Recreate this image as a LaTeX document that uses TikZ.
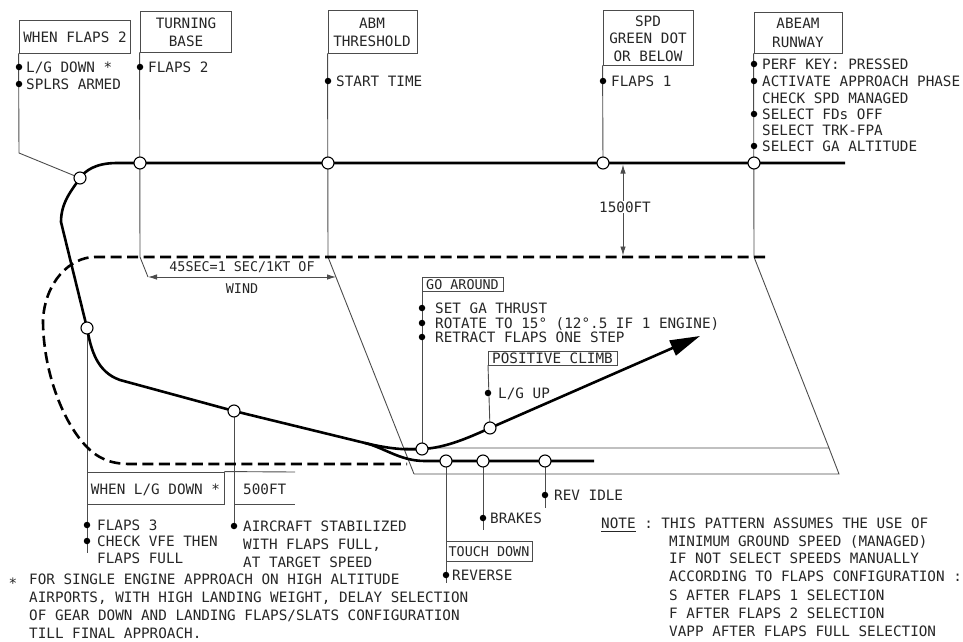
\documentclass[tikz,border=0pt]{standalone}
\usepackage{fontspec}
\newfontfamily\dvsm{DejaVu Sans Mono}
\usetikzlibrary{arrows.meta}
\newcommand\fA{\dvsm\fontsize{14.3pt}{18pt}\selectfont}
\newcommand\fB{\dvsm\fontsize{13.4pt}{16pt}\selectfont}
\begin{document}
\begin{tikzpicture}[x=1pt,y=-1pt,
 thinl/.style={line width=0.9pt, draw=black!70},
 pathl/.style={line width=2.6pt, draw=black},
 dashl/.style={line width=2.6pt, draw=black, dash pattern=on 11pt off 5.5pt},
 wp/.style={circle, draw=black, fill=white, line width=1.1pt, minimum size=12pt, inner sep=0pt},
 bul/.style={circle, fill=black, minimum size=6.5pt, inner sep=0pt},
 lbl/.style={font=\fA, text=black!85, inner sep=0pt, text height=10.4pt, text depth=0pt, anchor=west},
 clbl/.style={lbl, anchor=center},
 slbl/.style={lbl, font=\fB},
 boxn/.style={draw=black!70, line width=0.9pt, inner sep=0pt, rectangle},
 dimarr/.style={thinl, {Latex[length=9pt,width=5.5pt]}-{Latex[length=9pt,width=5.5pt]}},
]
\useasboundingbox (0,0) rectangle (963,642);
% ---------- key points
\coordinate (dwE) at (845,163);
\coordinate (pAB) at (754,163);
\coordinate (pSPD) at (603,163);
\coordinate (pABM) at (328,163);
\coordinate (pTB) at (140,163);
\coordinate (pWF) at (80,178);
\coordinate (pLG) at (87,328);
\coordinate (p500) at (234,411);
\coordinate (pGA) at (422,449);
\coordinate (pPC) at (490,428);
\coordinate (pTD) at (446,461);
\coordinate (pBR) at (483,461);
\coordinate (pRI) at (545,461);
\coordinate (gaTip) at (700,336);
\coordinate (rwE) at (594,461);
\coordinate (split) at (365,443);
\coordinate (rTL) at (404,448);
\coordinate (rTR) at (829,448);
\coordinate (rBR) at (839,474);
\coordinate (rBL) at (414,474);
\coordinate (eTB) at (140,257);
\coordinate (eTBa) at (148,277);
\coordinate (eABM) at (328,257);
\coordinate (eAB) at (754,257);
\coordinate (a45R) at (336,277);
\coordinate (h1) at (623,164.5);
\coordinate (h2) at (623,255.5);
\coordinate (dsE) at (765,257);
\coordinate (dsW) at (407,464);
% ---------- boxes (top)
\node[boxn, minimum width=111pt, minimum height=33pt] (bWF) at (74.5,36.5) {};
\node[boxn, minimum width=91pt, minimum height=41pt] (bTB) at (185.5,31.5) {};
\node[boxn, minimum width=89pt, minimum height=43pt] (bABM) at (372.5,31.5) {};
\node[boxn, minimum width=90pt, minimum height=55pt] (bSPD) at (648,37.5) {};
\node[boxn, minimum width=88pt, minimum height=41pt] (bAB) at (798,32.5) {};
% ---------- thin extension lines
\draw[thinl] (bWF.south west) -- (19,153) -- (pWF);
\draw[thinl] (bTB.south west) -- (eTB) -- (eTBa);
\draw[thinl] (bABM.south west) -- (eABM) -- (rBL);
\draw[thinl] (bSPD.south west) -- (pSPD);
\draw[thinl] (bAB.south west) -- (eAB) -- (rTR);
% runway
\draw[thinl] (rTL) -- (rTR) -- (rBR) -- (rBL);
% dimensions
\draw[dimarr] (eTBa) -- (a45R);
\draw[dimarr] (h1) -- (h2);
% vertical lines below
\coordinate (lgEnd) at (87,553);
\draw[thinl] (pLG) -- (lgEnd);
\coordinate (e500) at (234,526);
\draw[thinl] (p500) -- (e500);
\coordinate (gaTop) at (422,291);
\draw[thinl] (gaTop) -- (pGA);
\coordinate (pcTop) at (488,365);
\draw[thinl] (pcTop) -- (pPC);
\coordinate (tdEnd) at (446,583);
\draw[thinl] (pTD) -- (tdEnd);
\coordinate (brEnd) at (483,530);
\draw[thinl] (pBR) -- (brEnd);
\coordinate (riEnd) at (545,508);
\draw[thinl] (pRI) -- (riEnd);
% bottom-left boxes
\node[boxn, minimum width=137pt, minimum height=32pt] (bLG) at (155.5,488) {};
\coordinate (t500a) at (295,472);
\coordinate (t500b) at (295,504);
\draw[thinl] (bLG.north east) -- (t500a);
\draw[thinl] (234,504) -- (t500b);
\node[boxn, minimum width=86pt, minimum height=20pt] (bTD) at (489,551) {};
\node[boxn, minimum width=81pt, minimum height=14pt] (bGA) at (462.5,284) {};
\node[boxn, minimum width=129pt, minimum height=14pt] (bPC) at (552.5,358) {};
% ---------- dashed pattern
\draw[dashl] (dsE) -- (95,257) .. controls (70,257) and (45,282) .. (43,320)
   .. controls (43,370) and (62,420) .. (85,445)
   .. controls (97,458) and (110,464) .. (130,464) -- (dsW);
% ---------- flight path
\draw[pathl, line join=round] (dwE) -- (117,163) .. controls (95,163) and (85,171) .. (pWF)
   .. controls (72,190) and (61,202) .. (61,222) -- (pLG)
   .. controls (91,350) and (97,372) .. (120,380) -- (p500) -- (split)
   .. controls (385,448) and (400,461) .. (425,461) -- (rwE);
\draw[pathl, -{Triangle[length=30pt,width=16pt]}] (split) .. controls (390,449) and (405,450) .. (pGA)
   .. controls (445,448) and (468,438) .. (pPC) -- (gaTip);
% ---------- waypoints
\foreach \p/\n in {pAB/wAB, pSPD/wSPD, pABM/wABM, pTB/wTB, pWF/wWF, pLG/wLG, p500/w500, pGA/wGA, pPC/wPC, pTD/wTD, pBR/wBR, pRI/wRI}
  \node[wp] (\n) at (\p) {};
% ---------- bullets
\foreach \x/\y/\n in {19/67/d1, 19/84/d2, 140/67/d3, 328/81/d4, 603/81/d5,
   754/64/d6, 754/81/d7, 754/114/d8, 754/146/d9,
   422/308/d10, 422/323/d11, 422/337/d12, 488/393/d13,
   87/525/d14, 87/541/d15, 234/526/d16, 446/575/d17, 483/518/d18, 545/495/d19}
  \node[bul] (\n) at (\x,\y) {};
% ---------- texts top
\node[clbl] (tWF) at (75,37) {WHEN FLAPS 2};
\node[clbl] (tTB1) at (186,23) {TURNING};
\node[clbl] (tTB2) at (186,41) {BASE};
\node[clbl] (tABM1) at (372,23) {ABM};
\node[clbl] (tABM2) at (372,41) {THRESHOLD};
\node[clbl] (tSPD1) at (648,21) {SPD};
\node[clbl] (tSPD2) at (648,38) {GREEN DOT};
\node[clbl] (tSPD3) at (648,56) {OR BELOW};
\node[clbl] (tAB1) at (798,23) {ABEAM};
\node[clbl] (tAB2) at (798,42) {RUNWAY};
\node[lbl] (l1) at (26,67) {L/G DOWN *};
\node[lbl] (l2) at (26,84) {SPLRS ARMED};
\node[lbl] (l3) at (148,67) {FLAPS 2};
\node[lbl] (l4) at (336,81) {START TIME};
\node[lbl] (l5) at (611,81) {FLAPS 1};
\node[lbl] (l6) at (762,64) {PERF KEY: PRESSED};
\node[lbl] (l7) at (762,81) {ACTIVATE APPROACH PHASE};
\node[lbl] (l8) at (762,98) {CHECK SPD MANAGED};
\node[lbl] (l9) at (762,114) {SELECT FDs OFF};
\node[lbl] (l10) at (762,130) {SELECT TRK-FPA};
\node[lbl] (l11) at (762,146) {SELECT GA ALTITUDE};
% dimensions text
\node[clbl, fill=white, inner sep=1pt] (t1500) at (625,207) {1500FT};
\node[clbl, font=\fB] (t45) at (242,266) {45SEC=1 SEC/1KT OF};
\node[clbl, font=\fB] (twind) at (242,288) {WIND};
% go around
\node[clbl, font=\fB] (tGA) at (462.5,284) {GO AROUND};
\node[lbl] (g1) at (435,308) {SET GA THRUST};
\node[lbl] (g2) at (435,323) {ROTATE TO 15° (12°.5 IF 1 ENGINE)};
\node[lbl] (g3) at (435,337) {RETRACT FLAPS ONE STEP};
\node[clbl] (tPC) at (552.5,358) {POSITIVE CLIMB};
\node[lbl] (g4) at (498,393) {L/G UP};
% bottom left
\node[clbl] (tLG) at (155.5,489) {WHEN L/G DOWN *};
\node[lbl] (t500) at (243,489) {500FT};
\node[lbl] (b1) at (97,525) {FLAPS 3};
\node[lbl] (b2) at (97,541) {CHECK VFE THEN};
\node[lbl] (b3) at (97,558) {FLAPS FULL};
\node[lbl] (b4) at (243,526) {AIRCRAFT STABILIZED};
\node[lbl] (b5) at (243,544) {WITH FLAPS FULL,};
\node[lbl] (b6) at (243,562) {AT TARGET SPEED};
% touchdown etc
\node[clbl, font=\fB] (tTD) at (489,551) {TOUCH DOWN};
\node[lbl] (r1) at (452,575) {REVERSE};
\node[lbl] (r2) at (490,518) {BRAKES};
\node[lbl] (r3) at (554,495) {REV IDLE};
% footnote
\node[clbl] (fstar) at (13,583) {*};
\node[lbl] (f1) at (29,579) {FOR SINGLE ENGINE APPROACH ON HIGH ALTITUDE};
\node[lbl] (f2) at (29,597) {AIRPORTS, WITH HIGH LANDING WEIGHT, DELAY SELECTION};
\node[lbl] (f3) at (29,615) {OF GEAR DOWN AND LANDING FLAPS/SLATS CONFIGURATION};
\node[lbl] (f4) at (29,633) {TILL FINAL APPROACH.};
% note
\node[lbl] (n0) at (601,523) {NOTE : THIS PATTERN ASSUMES THE USE OF};
\draw[line width=0.9pt, black!85] (n0.south west) ++(0,3) -- ++(35,0);
\node[lbl] (n1) at (669,541) {MINIMUM GROUND SPEED (MANAGED)};
\node[lbl] (n2) at (669,558) {IF NOT SELECT SPEEDS MANUALLY};
\node[lbl] (n3) at (669,576) {ACCORDING TO FLAPS CONFIGURATION :};
\node[lbl] (n4) at (669,595) {S AFTER FLAPS 1 SELECTION};
\node[lbl] (n5) at (669,613) {F AFTER FLAPS 2 SELECTION};
\node[lbl] (n6) at (669,631) {VAPP AFTER FLAPS FULL SELECTION};
\end{tikzpicture}
\end{document}
